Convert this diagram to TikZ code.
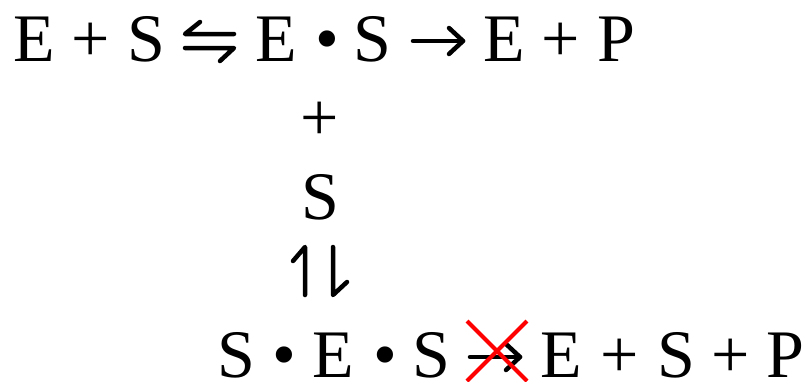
\documentclass[tikz,border=0pt]{standalone}
\usepackage{fontspec}
\setmainfont{Liberation Serif}
\begin{document}
\begin{tikzpicture}[x=1pt,y=-1pt,
  g/.style={inner sep=0pt,outer sep=0pt,anchor=base,font=\fontsize{68}{72}\selectfont},
  bar/.style={line width=4.5pt,line cap=round,line join=round},
  cross/.style={red,line width=4pt}]
\useasboundingbox (0,0) rectangle (803,381);
% line 1
\node[g] (a1) at (34,61) {E};
\node[g] (a2) at (91,61) {+};
\node[g] (a3) at (146.5,61) {S};
\node[g] (a4) at (276.5,61) {E};
\node[g] (a5) at (327.5,61) {•};
\node[g] (a6) at (372.5,61) {S};
\node[g] (a7) at (504.5,61) {E};
\node[g] (a8) at (561,61) {+};
\node[g] (a9) at (616,61) {P};
% column
\node[g] (c1) at (320,140) {+};
\node[g] (c2) at (320,219) {S};
% line 4
\node[g] (b1) at (236.5,377) {S};
\node[g] (b2) at (284,377) {•};
\node[g] (b3) at (333,377) {E};
\node[g] (b4) at (385,377) {•};
\node[g] (b5) at (431,377) {S};
\node[g] (b6) at (561.5,377) {E};
\node[g] (b7) at (619.5,377) {+};
\node[g] (b8) at (676.5,377) {S};
\node[g] (b9) at (730.5,377) {+};
\node[g] (b10) at (785,377) {P};
% equilibrium harpoons E+S <=> ES
\coordinate (q1) at (185,34);
\coordinate (q2) at (234,34);
\coordinate (q1b) at (200,22);
\coordinate (q3) at (185,48);
\coordinate (q4) at (234,48);
\coordinate (q4b) at (220,61);
\draw[bar] (q2) -- (q1) -- (q1b);
\draw[bar] (q3) -- (q4) -- (q4b);
% arrow ES -> E+P
\coordinate (r1) at (413,41);
\coordinate (r2) at (463,41);
\coordinate (r2a) at (449,28);
\coordinate (r2b) at (449,54);
\draw[bar] (r1) -- (r2);
\draw[bar] (r2a) -- (r2) -- (r2b);
% vertical harpoons
\coordinate (h1b) at (305,295);
\coordinate (h1t) at (305,247);
\coordinate (h1k) at (293,261);
\coordinate (h2t) at (333,247);
\coordinate (h2b) at (333,295);
\coordinate (h2k) at (347,282);
\draw[bar] (h1b) -- (h1t) -- (h1k);
\draw[bar] (h2t) -- (h2b) -- (h2k);
% blocked arrow SES -> E+S+P
\coordinate (s1) at (470,357);
\coordinate (s2) at (520,357);
\coordinate (s2a) at (506,344);
\coordinate (s2b) at (506,370);
\draw[bar] (s1) -- (s2);
\draw[bar] (s2a) -- (s2) -- (s2b);
% red cross
\coordinate (xa) at (467,321);
\coordinate (xb) at (527,381);
\coordinate (xc) at (527,321);
\coordinate (xd) at (467,381);
\draw[cross] (xa) -- (xb);
\draw[cross] (xc) -- (xd);
\end{tikzpicture}
\end{document}
